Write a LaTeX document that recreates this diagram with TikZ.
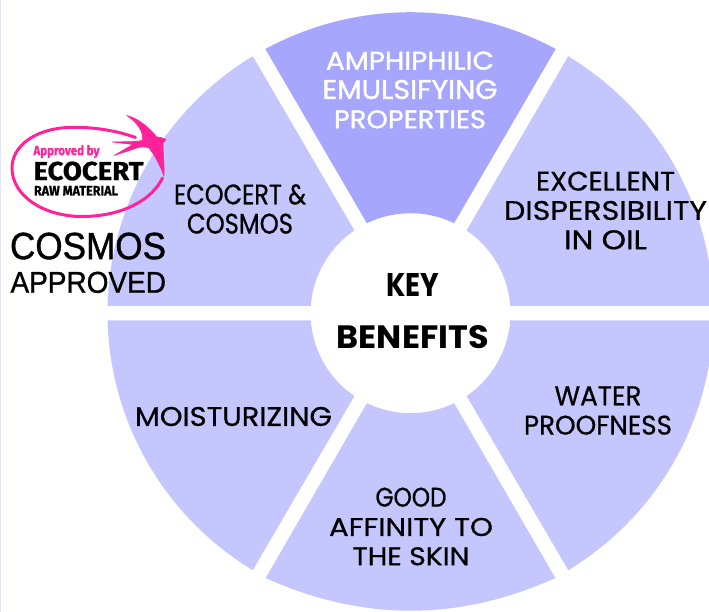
\documentclass[tikz,border=0pt]{standalone}
\usepackage{graphicx}
\usepackage{fontspec}
\setmainfont{Poppins}
\newfontfamily\labelfont[RawFeature={embolden=0.7}]{Poppins}
\newfontfamily\whitefont[RawFeature={embolden=1.4}]{Poppins}
\newfontfamily\logofont[RawFeature={embolden=0.8}]{Fira Sans}
\newfontfamily\plainfont[RawFeature={embolden=1.0}]{Liberation Sans}
\newcommand{\fitl}[3]{\resizebox{#1pt}{#2pt}{#3}}
\definecolor{sectorlight}{HTML}{C6C6FF}
\definecolor{sectordark}{HTML}{A6A6FF}
\definecolor{logopink}{HTML}{FF2299}
\definecolor{stripcolor}{HTML}{E4E4FF}
\tikzset{
  sectorshape/.style={fill=sectorlight,draw=none},
  label/.style={align=center,inner sep=0pt,outer sep=0pt,text=black,font=\labelfont\fontsize{26}{29.3}\selectfont},
  whitelabel/.style={label,text=white,font=\whitefont\fontsize{26}{29.3}\selectfont},
  heading/.style={label,font=\fontsize{30}{52}\selectfont\bfseries},
  logotext/.style={inner sep=0pt,outer sep=0pt,font=\logofont\bfseries\fontsize{18}{20}\selectfont},
  plain/.style={inner sep=0pt,outer sep=0pt,font=\plainfont\fontsize{30}{32}\selectfont},
}
\begin{document}
\begin{tikzpicture}[x=1pt,y=-1pt]
\path[use as bounding box,fill=white] (0,0) rectangle (709,612);
\clip (0,0) rectangle (709,612);
\fill[stripcolor] (0,0) rectangle (1.3,612);
\coordinate (c) at (410.5,313.2);
% wheel sectors
\foreach \b in {30,150,210,330}{
  \path[sectorshape] ([shift={(c)}]\b+28.625:303pt and 301pt) arc[start angle=\b+28.625,end angle=\b-28.625,x radius=303pt,y radius=301pt]
    -- ([shift={(c)}]\b-25.87:100pt) arc[start angle=\b-25.87,end angle=\b+25.87,radius=100pt] -- cycle;
}
% bottom sector, flatter along its outer edge
\path[sectorshape] (265.7,578) .. controls (362,621.6) and (459,621.6) .. (555.3,578)
    -- ([shift={(c)}]295.87:100pt) arc[start angle=295.87,end angle=244.13,radius=100pt] -- cycle;
% top sector
\path[sectorshape,fill=sectordark] ([shift={(c)}]118.625:303pt and 301pt) arc[start angle=118.625,end angle=61.375,x radius=303pt,y radius=301pt]
    -- ([shift={(c)}]64.13:100pt) arc[start angle=64.13,end angle=115.87,radius=100pt] -- cycle;
% labels
\node[whitelabel] (amph) at (410,90) {\fitl{168}{18}{AMPHIPHILIC}\\\fitl{175}{19}{EMULSIFYING}\\\fitl{152}{18}{PROPERTIES}};
\node[label] (disp) at (605.5,210.5) {\fitl{139}{19}{EXCELLENT}\\\fitl{203}{19}{DISPERSIBILITY}\\\fitl{83}{19}{IN OIL}};
\node[label] (eco) at (240,209) {\fitl{132}{20}{ECOCERT \&}\\\fitl{106}{20}{COSMOS}};
\node[label] (moist) at (233.5,416.5) {\fitl{197}{19}{MOISTURIZING}};
\node[label] (water) at (598,410.5) {\fitl{87}{19}{WATER}\\\fitl{148}{19}{PROOFNESS}};
\node[label] (good) at (411,526.5) {\fitl{71}{19}{GOOD}\\\fitl{164}{18}{AFFINITY TO}\\\fitl{117}{18}{THE SKIN}};
\node[heading] (key) at (412.8,311.5) {\fitl{53}{23}{KEY}\\\fitl{152}{23}{BENEFITS}};
% logo ring
\draw[logopink,line width=3pt,line cap=round]
  (135.5,137.5) .. controls (115,130) and (90,126.5) .. (68,127.5)
  .. controls (35,129) and (12,146) .. (12,168)
  .. controls (12,196) and (44,216.5) .. (82,216.5)
  .. controls (122,216.5) and (152,200) .. (162.5,178);
% swallow
\filldraw[logopink,line width=0.6pt,line join=round] (126.7,115.5) .. controls (136,118) and (146,124) .. (156.7,137)
  -- (161,137.5) -- (166,139.5) -- (163,143)
  .. controls (163,155) and (164.5,165) .. (164,176)
  .. controls (160,165) and (154,154) .. (149,148)
  .. controls (145,146.5) and (141,146.5) .. (137,148)
  -- (114,155.5) -- (133,144.5) -- (112.5,142) -- (135,141.5) -- (142.5,140.5)
  .. controls (144,132) and (137,122) .. cycle;
% logo text
\node[logotext,text=logopink,anchor=south west] (appr) at (33.5,158) {\fitl{66}{10}{Approved by}};
\node[logotext,anchor=south west] (ecocert) at (33.5,180.5) {\fitl{110}{18.5}{ECOCERT}};
\node[logotext,anchor=south west] (raw) at (34,195.5) {\fitl{84}{9.5}{RAW MATERIAL}};
\node[plain,anchor=south west] (cosmos) at (10,259.5) {\fitl{156}{26.5}{COSMOS}};
\node[plain,anchor=south west] (approved) at (10.5,293) {\fitl{155.5}{21}{APPROVED}};
\end{tikzpicture}
\end{document}
